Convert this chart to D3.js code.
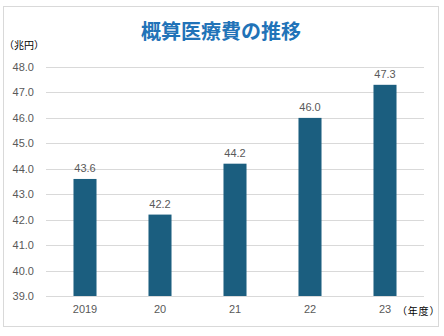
<!DOCTYPE html>
<html>
<head>
<meta charset="utf-8">
<script src="https://cdn.jsdelivr.net/npm/d3@7"></script>
<style>
  html, body { margin: 0; padding: 0; background: #fff; }
  svg { display: block; }
</style>
</head>
<body>
<script>
// 概算医療費（兆円）by fiscal year
const years = ["2019", "20", "21", "22", "23"];
const costs = [43.6, 42.2, 44.2, 46.0, 47.3];
const yTicks = [39, 40, 41, 42, 43, 44, 45, 46, 47, 48];

const W = 444, H = 336;
const svg = d3.select("body").append("svg").attr("width", W).attr("height", H);

const font = "'Liberation Sans', Arial, sans-serif";
const cjk = "'Noto Sans CJK JP', sans-serif";

// frame
svg.append("rect").attr("x", 3.5).attr("y", 6.5).attr("width", 435).attr("height", 320)
  .attr("fill", "#fff").attr("stroke", "#d9d9d9").attr("stroke-width", 1);

// title
svg.append("text").attr("x", 221).attr("y", 39).attr("text-anchor", "middle")
  .attr("font-family", cjk).attr("font-weight", "bold").attr("font-size", 20)
  .attr("fill", "#2173b8").text("概算医療費の推移");

const x = d3.scaleBand().domain(years).range([47.5, 422.5]).paddingInner(0.693).paddingOuter(0.3465);
const y = d3.scaleLinear().domain([39, 48]).range([296, 67]);

// gridlines
svg.append("g").selectAll("line").data(yTicks).join("line")
  .attr("x1", 46).attr("x2", 424)
  .attr("y1", d => Math.round(y(d)) + 0.5).attr("y2", d => Math.round(y(d)) + 0.5)
  .attr("stroke", "#d9d9d9").attr("stroke-width", 1);

// y axis labels
const yAxis = d3.axisLeft(y).tickValues(yTicks).tickFormat(d3.format(".1f")).tickSize(0).tickPadding(0);
const gy = svg.append("g").attr("transform", "translate(34,0)").call(yAxis);
gy.select(".domain").remove();
gy.selectAll("text").attr("font-family", font).attr("font-size", 11).attr("fill", "#595959");

// x axis labels
const xAxis = d3.axisBottom(x).tickSize(0).tickPadding(0);
const gx = svg.append("g").attr("transform", "translate(0,305)").call(xAxis);
gx.select(".domain").remove();
gx.selectAll("text").attr("font-family", font).attr("font-size", 11).attr("fill", "#595959");

// bars
svg.append("g").selectAll("rect").data(costs).join("rect")
  .attr("x", (d, i) => x(years[i]))
  .attr("width", x.bandwidth())
  .attr("y", d => y(d))
  .attr("height", d => y(39) - y(d))
  .attr("fill", "#1b5e7f");

// value labels
svg.append("g").selectAll("text").data(costs).join("text")
  .attr("x", (d, i) => x(years[i]) + x.bandwidth() / 2)
  .attr("y", d => y(d) - 7)
  .attr("text-anchor", "middle")
  .attr("font-family", font).attr("font-size", 11).attr("fill", "#595959")
  .text(d => d3.format(".1f")(d));

// unit labels
svg.append("text").attr("x", 4).attr("y", 49)
  .attr("font-family", cjk).attr("font-size", 10).attr("fill", "#000")
  .text("（兆円）");
svg.append("text").attr("x", 397).attr("y", 315)
  .attr("font-family", cjk).attr("font-size", 10).attr("fill", "#000")
  .attr("letter-spacing", 0.8)
  .text("（年度）");
</script>
</body>
</html>
